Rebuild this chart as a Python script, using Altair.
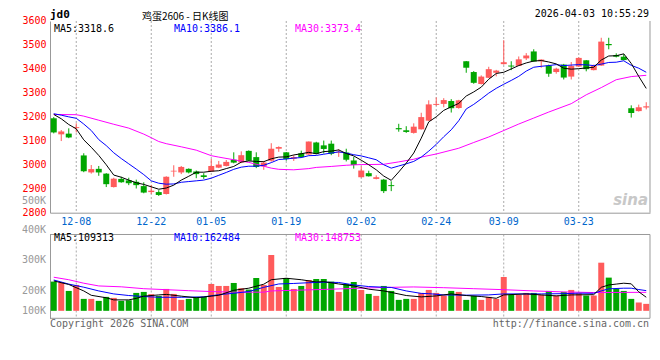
import altair as alt
import pandas as pd

# ---------------- data ----------------
dates = ["12-03", "12-04", "12-05", "12-08", "12-09", "12-10", "12-11", "12-12", "12-15", "12-16",
         "12-17", "12-18", "12-19", "12-22", "12-23", "12-24", "12-25", "12-26", "12-29", "12-30",
         "12-31", "01-05", "01-06", "01-07", "01-08", "01-09", "01-12", "01-13", "01-14", "01-15",
         "01-16", "01-19", "01-20", "01-21", "01-22", "01-23", "01-26", "01-27", "01-28", "01-29",
         "01-30", "02-02", "02-03", "02-04", "02-05", "02-06", "02-09", "02-10", "02-11", "02-12",
         "02-13", "02-24", "02-25", "02-26", "02-27", "03-02", "03-03", "03-04", "03-05", "03-06",
         "03-09", "03-10", "03-11", "03-12", "03-13", "03-16", "03-17", "03-18", "03-19", "03-20",
         "03-23", "03-24", "03-25", "03-26", "03-27", "03-30", "03-31", "04-01", "04-02", "04-03"]

opens = [3194, 3127, 3130, 3153, 3039, 2968, 2983, 2963, 2907, 2941,
         2935, 2929, 2911, 2886, 2886, 2878, 2972, 2968, 2983, 2972,
         2956, 2972, 2988, 2995, 3021, 3010, 3058, 3032, 2993, 3017,
         3067, 3052, 3025, 3048, 3043, 3093, 3081, 3088, 3051, 3051,
         3018, 2948, 2965, 2941, 2938, 2915, 3153, 3144, 3133, 3148,
         3184, 3250, 3254, 3266, 3237, 3432, 3387, 3337, 3363, 3384,
         3420, 3414, 3413, 3444, 3473, 3432, 3414, 3387, 3418, 3368,
         3410, 3436, 3395, 3414, 3504, 3458, 3451, 3236, 3224, 3239]
highs = [3199, 3145, 3152, 3173, 3048, 2999, 2995, 2965, 2946, 2950,
         2946, 2938, 2927, 2916, 2894, 2952, 2998, 2995, 2985, 2976,
         2965, 3024, 3016, 3020, 3052, 3056, 3060, 3052, 3016, 3090,
         3077, 3053, 3040, 3059, 3097, 3096, 3101, 3101, 3065, 3067,
         3033, 2993, 2975, 2956, 2941, 2931, 3171, 3161, 3173, 3217,
         3269, 3281, 3278, 3274, 3271, 3433, 3391, 3373, 3409, 3396,
         3520, 3432, 3452, 3466, 3482, 3440, 3418, 3405, 3421, 3429,
         3448, 3437, 3418, 3530, 3530, 3465, 3462, 3248, 3251, 3261]
lows = [3131, 3099, 3111, 3135, 2969, 2963, 2954, 2907, 2905, 2925,
        2915, 2901, 2881, 2878, 2870, 2876, 2950, 2961, 2964, 2944,
        2941, 2970, 2986, 2993, 3006, 3007, 3016, 2986, 2979, 3013,
        3054, 3017, 3016, 3029, 3041, 3044, 3047, 3040, 3033, 3014,
        2984, 2947, 2951, 2939, 2882, 2890, 3138, 3133, 3130, 3147,
        3183, 3246, 3240, 3218, 3234, 3384, 3338, 3335, 3362, 3369,
        3418, 3395, 3412, 3437, 3430, 3405, 3367, 3380, 3356, 3356,
        3409, 3390, 3394, 3413, 3482, 3448, 3436, 3197, 3222, 3231]
closes = [3135, 3139, 3114, 3157, 2973, 2982, 2968, 2919, 2942, 2927,
          2923, 2915, 2884, 2892, 2874, 2950, 2975, 2991, 2968, 2961,
          2949, 2995, 3001, 3012, 3009, 3040, 3017, 2991, 3009, 3067,
          3074, 3024, 3032, 3032, 3097, 3046, 3066, 3046, 3054, 3021,
          2999, 2976, 2952, 2948, 2890, 2911, 3148, 3137, 3159, 3199,
          3252, 3254, 3270, 3236, 3269, 3405, 3342, 3368, 3399, 3393,
          3428, 3410, 3440, 3456, 3431, 3439, 3380, 3401, 3364, 3412,
          3446, 3399, 3412, 3514, 3499, 3451, 3437, 3216, 3240, 3244]
volumes_k = [235, 227, 160, 208, 96, 96, 80, 112, 104, 80,
             85, 144, 152, 134, 120, 176, 136, 88, 96, 112,
             112, 216, 200, 200, 224, 182, 171, 264, 208, 449,
             192, 264, 176, 200, 248, 256, 256, 235, 152, 216,
             232, 168, 136, 120, 200, 160, 88, 96, 96, 144,
             168, 144, 123, 160, 152, 88, 120, 88, 112, 96,
             272, 128, 128, 144, 144, 128, 160, 123, 152, 168,
             142, 123, 123, 387, 267, 176, 160, 96, 67, 56]

ma5 = [3210, 3192, 3168, 3150, 3104, 3073, 3039, 3000, 2957, 2948,
       2936, 2925, 2918, 2908, 2898, 2903, 2915, 2936, 2952, 2969,
       2969, 2973, 2975, 2984, 2993, 3011, 3016, 3014, 3013, 3025,
       3032, 3033, 3041, 3046, 3052, 3046, 3055, 3057, 3062, 3047,
       3037, 3019, 3000, 2979, 2953, 2935, 2970, 3007, 3049, 3111,
       3179, 3200, 3227, 3242, 3256, 3287, 3304, 3324, 3357, 3381,
       3386, 3400, 3414, 3425, 3433, 3435, 3429, 3421, 3403, 3399,
       3401, 3404, 3407, 3437, 3454, 3455, 3463, 3423, 3369, 3318.6]
ma10 = [3213, 3207, 3200, 3194, 3170, 3143, 3105, 3080, 3050, 3026,
        3004, 2982, 2959, 2933, 2923, 2919, 2920, 2927, 2930, 2933,
        2936, 2944, 2956, 2968, 2981, 2990, 2994, 2994, 2998, 3009,
        3022, 3024, 3028, 3030, 3038, 3039, 3044, 3049, 3054, 3049,
        3042, 3037, 3029, 3021, 3000, 2986, 2995, 3004, 3014, 3032,
        3057, 3085, 3117, 3146, 3184, 3233, 3252, 3275, 3299, 3319,
        3336, 3352, 3369, 3391, 3407, 3411, 3414, 3418, 3414, 3416,
        3418, 3417, 3414, 3420, 3427, 3428, 3434, 3415, 3403, 3386.1]
ma30_idx = [0, 3, 4, 6, 8, 10, 12, 13, 14, 15, 17, 19, 21, 22, 24, 26, 27, 29, 30, 32,
            34, 35, 37, 39, 41, 42, 44, 46, 48, 49, 51, 54, 56, 58, 60, 62, 64, 66, 69, 71,
            73, 75, 77, 79]
ma30_val = [3210, 3209, 3203, 3186, 3169, 3153, 3128, 3113, 3097, 3088, 3075, 3061, 3038, 3032, 3021, 3010, 3002, 2986, 2981, 2979,
            2984, 2989, 2993, 2998, 3001, 3001, 3002, 3012, 3023, 3032, 3045, 3069, 3093, 3116, 3143, 3170, 3195, 3220, 3255, 3292,
            3322, 3355, 3368, 3373.4]

vma5_idx = [0, 2, 4, 5, 7, 8, 10, 11, 12, 14, 15, 17, 19, 21, 22, 24, 26, 28, 29, 31,
            33, 35, 36, 38, 40, 42, 44, 45, 47, 49, 51, 53, 55, 57, 59, 60, 63, 65, 67, 69,
            72, 73, 74, 75, 76, 77, 78, 79]
vma5_val = [240, 212, 160, 125, 105, 88, 88, 100, 118, 128, 132, 118, 105, 118, 125, 165, 182, 214, 250, 262,
            250, 232, 235, 216, 200, 174, 160, 148, 123, 112, 120, 136, 123, 115, 101, 128, 136, 128, 120, 128,
            130, 189, 208, 215, 222, 217, 153, 109.3]
vma10_idx = [0, 2, 4, 6, 8, 10, 12, 14, 17, 20, 22, 24, 26, 28, 30, 32, 34, 36, 38, 40,
             42, 44, 45, 47, 49, 50, 52, 55, 58, 60, 63, 65, 68, 70, 72, 73, 74, 76, 77, 78, 79]
vma10_val = [248, 215, 190, 160, 136, 123, 115, 109, 109, 112, 130, 141, 155, 189, 216, 220, 226, 230, 228, 208,
             195, 190, 188, 160, 140, 138, 128, 126, 128, 136, 136, 136, 138, 142, 141, 160, 177, 182, 182, 171, 162.5]
vma30_idx = [0, 2, 4, 6, 9, 12, 15, 18, 21, 24, 28, 29, 32, 36, 40, 44, 48, 52, 56, 60, 64, 68, 72, 76, 79]
vma30_val = [270, 250, 222, 200, 193, 178, 170, 162, 155, 150, 150, 160, 165, 172, 180, 188, 192, 186, 178, 170,
             160, 152, 147, 148, 148.75]

price_ticks = [2800, 2900, 3000, 3100, 3200, 3300, 3400, 3500, 3600]
date_ticks = ["12-08", "12-22", "01-05", "01-19", "02-02", "02-24", "03-09", "03-23"]
vol_grid = [125.6, 285.6, 445.6]
vol_labels = ["500K", "400K", "300K", "200K", "100K"]
vol_label_pos = [880, 648, 408, 160, 0]

# ---------------- styling ----------------
RED = "#ff5b5b"
GREEN = "#00a600"
GRID = "#aaaaaa"
FRAME = "#999999"
MONO = "DejaVu Sans Mono"
CJK = "Noto Sans CJK SC"

TOP = 13                 # page y of plot top = 8 + TOP
W = 600
P_BOTTOM = 191.7         # view y of the 2800 line
V_TOP = 213.5            # view y of the volume panel top
H = 297.3                # view y of the volume panel bottom
P_LO, P_HI = 2800, 3600
V_LO, V_HI = -60, 613.6

price_scale = alt.Scale(domain=[P_LO, P_HI], range=[P_BOTTOM, 0], nice=False, zero=False)
vol_scale = alt.Scale(domain=[V_LO, V_HI], range=[H, V_TOP], nice=False, zero=False)
x_scale = alt.Scale(type="band", domain=dates, paddingInner=0.2, paddingOuter=0.1)

x_axis = alt.Axis(values=date_ticks, orient="bottom", offset=-(H - P_BOTTOM), labelColor="#0066cc",
                  labelFont=MONO, labelFontSize=10, ticks=False, labelPadding=4, domainColor=FRAME,
                  grid=False, title=None, labelAngle=0)
price_axis = alt.Axis(values=price_ticks, orient="left", format="d", labelColor="#ff0000",
                      labelFont=MONO, labelFontSize=10, ticks=False, labelPadding=4,
                      domainColor=FRAME, gridColor=GRID, gridDash=[2, 2], title=None)
vol_axis = alt.Axis(values=vol_grid, orient="left", labels=False, ticks=False, domainColor=FRAME,
                    gridColor=GRID, gridDash=[2, 2], title=None)


def X():
    return alt.X("date:O", scale=x_scale, axis=x_axis)


def PY(field):
    return alt.Y(field, scale=price_scale, axis=price_axis)


def VY(field):
    return alt.Y(field, scale=vol_scale, axis=vol_axis)


color_enc = alt.Color("dir:N", scale=alt.Scale(domain=["up", "down"], range=[RED, GREEN]), legend=None)

candles = pd.DataFrame({"date": dates, "open": opens, "high": highs, "low": lows,
                        "close": closes, "vol": volumes_k})
candles["dir"] = ["up" if c >= o else "down" for o, c in zip(opens, closes)]

ticks_df = pd.DataFrame({"date": date_ticks})
one = pd.DataFrame({"k": [0]})


def series(idx, vals):
    return pd.DataFrame({"date": [dates[i] for i in idx], "v": vals})


full_idx = list(range(len(dates)))

# ---------------- price panel ----------------
p_vgrid = alt.Chart(ticks_df).mark_rule(color=GRID, strokeDash=[2, 2]).encode(
    x=X(), y=alt.YDatum(P_HI, scale=price_scale, axis=price_axis), y2=alt.Y2Datum(P_LO))
p_wick = alt.Chart(candles).mark_rule(strokeWidth=1).encode(
    x=X(), y=PY("low:Q"), y2="high:Q", color=color_enc)
p_body = alt.Chart(candles).mark_bar().encode(
    x=X(), y=PY("open:Q"), y2="close:Q", color=color_enc)


def pline(df, col):
    return alt.Chart(df).mark_line(color=col, strokeWidth=1).encode(x=X(), y=PY("v:Q"))


p_ma5 = pline(series(full_idx, ma5), "#000000")
p_ma10 = pline(series(full_idx, ma10), "#0000ff")
p_ma30 = pline(series(ma30_idx, ma30_val), "#ff00ff")
p_right = alt.Chart(one).mark_rule(color=FRAME).encode(
    x=alt.value(W), y=alt.YDatum(P_HI, scale=price_scale, axis=price_axis), y2=alt.Y2Datum(P_LO))

price = alt.layer(p_vgrid, p_wick, p_body, p_ma30, p_ma10, p_ma5, p_right)

# ---------------- volume panel ----------------
v_vgrid = alt.Chart(ticks_df).mark_rule(color=GRID, strokeDash=[2, 2]).encode(
    x=X(), y=alt.YDatum(V_HI, scale=vol_scale, axis=vol_axis), y2=alt.Y2Datum(V_LO))
v_bars = alt.Chart(candles).mark_bar().encode(
    x=X(), y=VY("vol:Q"), y2=alt.Y2Datum(0), color=color_enc)


def vline(df, col):
    return alt.Chart(df).mark_line(color=col, strokeWidth=1).encode(x=X(), y=VY("v:Q"))


v_ma5 = vline(series(vma5_idx, vma5_val), "#000000")
v_ma10 = vline(series(vma10_idx, vma10_val), "#0000ff")
v_ma30 = vline(series(vma30_idx, vma30_val), "#ff00ff")
v_top = alt.Chart(one).mark_rule(color=FRAME).encode(
    y=alt.YDatum(V_HI, scale=vol_scale, axis=vol_axis))
v_bot = alt.Chart(one).mark_rule(color=FRAME).encode(
    y=alt.YDatum(V_LO, scale=vol_scale, axis=vol_axis))
v_right = alt.Chart(one).mark_rule(color=FRAME).encode(
    x=alt.value(W), y=alt.YDatum(V_HI, scale=vol_scale, axis=vol_axis), y2=alt.Y2Datum(V_LO))
v_labels = alt.Chart(pd.DataFrame({"label": vol_labels, "pos": vol_label_pos})).mark_text(
    align="right", baseline="middle", color=FRAME, font=MONO, fontSize=10).encode(
    x=alt.value(-4), y=VY("pos:Q"), text="label:N")

volume = alt.layer(v_vgrid, v_bars, v_ma30, v_ma10, v_ma5, v_top, v_bot, v_right, v_labels)


# ---------------- texts ----------------
def label(text, x, y, color, size=10, weight="normal", align="left", baseline="middle",
          font=MONO, italic=False):
    return alt.Chart(one).mark_text(text=text, color=color, fontSize=size, fontWeight=weight,
                                    align=align, baseline=baseline, font=font,
                                    fontStyle="italic" if italic else "normal").encode(
        x=alt.value(x), y=alt.value(y))


texts = [
    label("jd0", 0, -2.5, "#000000", size=11, weight="bold", baseline="alphabetic"),
    label("鸡蛋2606 - 日K线图", 92, -1.2, "#000000", size=10, baseline="alphabetic", font=CJK),
    label("2026-04-03 10:55:29", 599, -3.5, "#000000", size=10, align="right", baseline="alphabetic"),
    label("MA5:3318.6", 4, 8.5, "#000000"),
    label("MA10:3386.1", 124, 8.5, "#0000ff"),
    label("MA30:3373.4", 245, 8.5, "#ff00ff"),
    label("MA5:109313", 4, 217.5, "#000000"),
    label("MA10:162484", 124, 217.5, "#0000ff"),
    label("MA30:148753", 245, 217.5, "#ff00ff"),
    label("Copyright 2026 SINA.COM", 0, 303, "#666666"),
    label("http://finance.sina.com.cn", 599, 303, "#666666", align="right"),
    label("sina", 598, 184, "#c8c8c8", size=15, weight="bold", align="right",
          baseline="alphabetic", font="DejaVu Sans", italic=True),
]

chart = alt.layer(price, volume, *texts).resolve_scale(y="independent").properties(
    width=W, height=H,
    autosize=alt.AutoSizeParams(type="none"),
    padding={"left": 42, "top": TOP, "right": 2, "bottom": 12},
    background="white",
).configure_view(stroke=None)

chart.save("out.html", embed_options={"renderer": "svg", "actions": False})
